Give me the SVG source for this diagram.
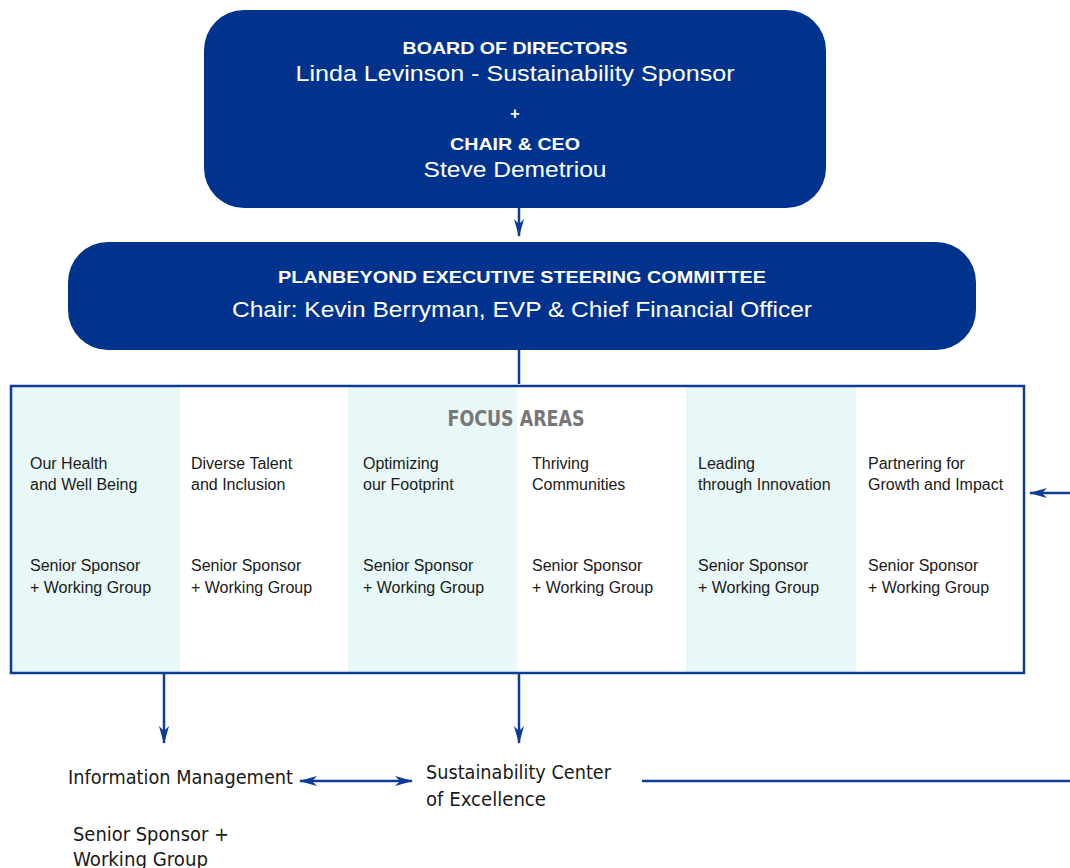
<svg xmlns="http://www.w3.org/2000/svg" width="1070" height="868" viewBox="0 0 1070 868">
<defs>
<style>
.box{fill:#00338d}
.hw{fill:#fff;font-family:"Liberation Sans",Arial,sans-serif;font-weight:bold;text-anchor:middle}
.nw{fill:#fff;font-family:"Liberation Sans",Arial,sans-serif;text-anchor:middle}
.col{font-family:"Liberation Sans",Arial,sans-serif;font-size:16px;fill:#1a1a1a}
.bt{font-family:"Liberation Sans Narrow","DejaVu Sans Condensed","Liberation Sans",sans-serif;font-size:19px;fill:#1a1a1a}
.ln{stroke:#0d3c96;stroke-width:2.5;fill:none}
.shade{fill:#e8f8f8}
</style>
<marker id="ah" viewBox="0 0 18 10" refX="17" refY="5" markerWidth="18" markerHeight="10" markerUnits="userSpaceOnUse" orient="auto-start-reverse">
<path d="M0,0 L18,5 L0,10 L5,5 Z" fill="#0d3c96"/>
</marker>
</defs>
<rect width="1070" height="868" fill="#fff"/>
<g id="board">
<rect class="box" x="204" y="10" width="622" height="198" rx="40"/>
<text class="hw" x="515" y="54" font-size="17" textLength="225" lengthAdjust="spacingAndGlyphs">BOARD OF DIRECTORS</text>
<text class="nw" x="515" y="81" font-size="22" textLength="439" lengthAdjust="spacingAndGlyphs">Linda Levinson - Sustainability Sponsor</text>
<text class="hw" x="515" y="119" font-size="16">+</text>
<text class="hw" x="515" y="150" font-size="17" textLength="130" lengthAdjust="spacingAndGlyphs">CHAIR &amp; CEO</text>
<text class="nw" x="515" y="177" font-size="22" textLength="183" lengthAdjust="spacingAndGlyphs">Steve Demetriou</text>
</g>
<g id="steering">
<rect class="box" x="68" y="242" width="908" height="108" rx="40"/>
<text class="hw" x="522" y="283" font-size="17" textLength="488" lengthAdjust="spacingAndGlyphs">PLANBEYOND EXECUTIVE STEERING COMMITTEE</text>
<text class="nw" x="522" y="317" font-size="22" textLength="580" lengthAdjust="spacingAndGlyphs">Chair: Kevin Berryman, EVP &amp; Chief Financial Officer</text>
</g>
<g id="focus-areas">
<rect class="shade" x="11" y="386" width="169" height="286"/>
<rect class="shade" x="348" y="386" width="169" height="286"/>
<rect class="shade" x="686" y="386" width="170" height="286"/>
<rect x="11" y="386" width="1013" height="287" fill="none" stroke="#0d3c96" stroke-width="2.5"/>
<text x="516" y="426" font-family="'Liberation Sans Narrow','DejaVu Sans Condensed',sans-serif" font-weight="bold" font-size="22" fill="#777" text-anchor="middle" textLength="137" lengthAdjust="spacingAndGlyphs">FOCUS AREAS</text>
<g class="col">
<text x="30" y="469">Our Health</text><text x="30" y="490">and Well Being</text>
<text x="30" y="571">Senior Sponsor</text><text x="30" y="593">+ Working Group</text>
<text x="191" y="469">Diverse Talent</text><text x="191" y="490">and Inclusion</text>
<text x="191" y="571">Senior Sponsor</text><text x="191" y="593">+ Working Group</text>
<text x="363" y="469">Optimizing</text><text x="363" y="490">our Footprint</text>
<text x="363" y="571">Senior Sponsor</text><text x="363" y="593">+ Working Group</text>
<text x="532" y="469">Thriving</text><text x="532" y="490">Communities</text>
<text x="532" y="571">Senior Sponsor</text><text x="532" y="593">+ Working Group</text>
<text x="698" y="469">Leading</text><text x="698" y="490">through Innovation</text>
<text x="698" y="571">Senior Sponsor</text><text x="698" y="593">+ Working Group</text>
<text x="868" y="469">Partnering for</text><text x="868" y="490">Growth and Impact</text>
<text x="868" y="571">Senior Sponsor</text><text x="868" y="593">+ Working Group</text>
</g>
</g>
<g id="info-mgmt" class="bt">
<text x="68" y="784" textLength="225" lengthAdjust="spacingAndGlyphs">Information Management</text>
<text x="73" y="841" textLength="156" lengthAdjust="spacingAndGlyphs">Senior Sponsor +</text>
<text x="73" y="866" textLength="135" lengthAdjust="spacingAndGlyphs">Working Group</text>
</g>
<g id="coe" class="bt">
<text x="426" y="779" textLength="185" lengthAdjust="spacingAndGlyphs">Sustainability Center</text>
<text x="426" y="806" textLength="120" lengthAdjust="spacingAndGlyphs">of Excellence</text>
</g>
<g id="connectors">
<line class="ln" x1="519" y1="208" x2="519" y2="236" marker-end="url(#ah)" stroke-width="2"/>
<line class="ln" x1="519" y1="350" x2="519" y2="384" stroke-width="2"/>
<line class="ln" x1="164" y1="672" x2="164" y2="743" marker-end="url(#ah)" stroke-width="2"/>
<line class="ln" x1="519" y1="672" x2="519" y2="743" marker-end="url(#ah)" stroke-width="2"/>
<line class="ln" x1="300" y1="781" x2="412" y2="781" marker-start="url(#ah)" marker-end="url(#ah)"/>
<line class="ln" x1="642" y1="781" x2="1070" y2="781"/>
<line class="ln" x1="1070" y1="493" x2="1030" y2="493" marker-end="url(#ah)" stroke-width="2"/>
</g>
</svg>
